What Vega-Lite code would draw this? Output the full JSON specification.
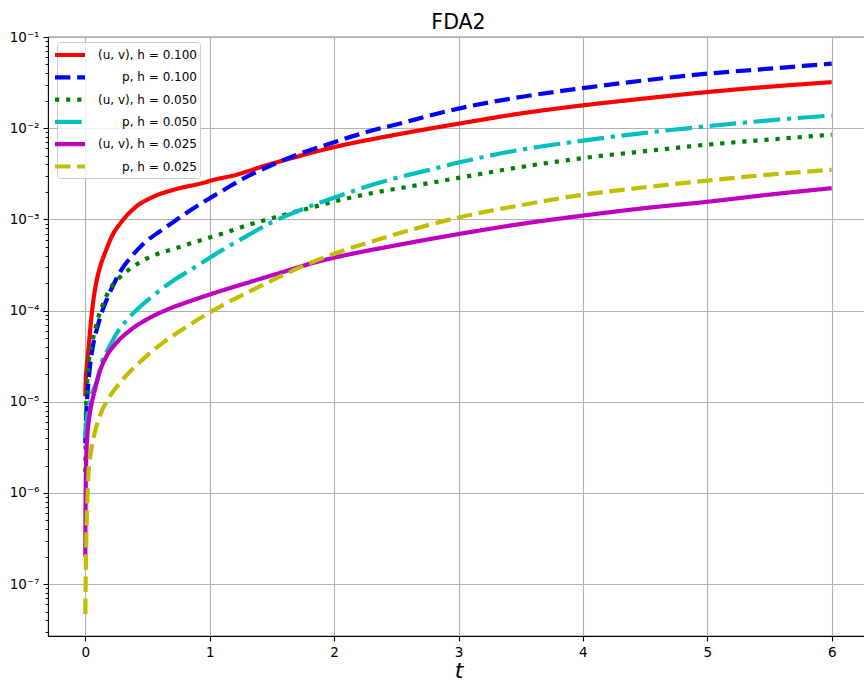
{
  "$schema": "https://vega.github.io/schema/vega-lite/v6.json",
  "autosize": {"type": "none"},
  "padding": {"left": 48, "top": 37, "right": 0, "bottom": 45},
  "width": 821,
  "height": 599,
  "background": "white",
  "title": {"text": "FDA2", "fontSize": 20.5, "fontWeight": "normal", "font": "DejaVu Sans", "color": "black", "anchor": "middle", "frame": "group", "baseline": "alphabetic", "offset": 7, "dy": 26},
  "config": {
    "view": {"stroke": "black", "strokeWidth": 1.1},
    "font": "DejaVu Sans"
  },
  "data": {"values": [
    {"series": "(u, v), h = 0.100", "t": 0, "v": 1.15e-5},
    {"series": "(u, v), h = 0.100", "t": 0.004, "v": 1.8e-5},
    {"series": "(u, v), h = 0.100", "t": 0.01, "v": 2.3e-5},
    {"series": "(u, v), h = 0.100", "t": 0.02, "v": 3.2e-5},
    {"series": "(u, v), h = 0.100", "t": 0.033, "v": 5e-5},
    {"series": "(u, v), h = 0.100", "t": 0.047, "v": 8e-5},
    {"series": "(u, v), h = 0.100", "t": 0.065, "v": 1.3e-4},
    {"series": "(u, v), h = 0.100", "t": 0.087, "v": 2e-4},
    {"series": "(u, v), h = 0.100", "t": 0.125, "v": 3.2e-4},
    {"series": "(u, v), h = 0.100", "t": 0.167, "v": 4.6e-4},
    {"series": "(u, v), h = 0.100", "t": 0.22, "v": 6.8e-4},
    {"series": "(u, v), h = 0.100", "t": 0.28, "v": 9e-4},
    {"series": "(u, v), h = 0.100", "t": 0.4, "v": 1.35e-3},
    {"series": "(u, v), h = 0.100", "t": 0.55, "v": 1.78e-3},
    {"series": "(u, v), h = 0.100", "t": 0.72, "v": 2.13e-3},
    {"series": "(u, v), h = 0.100", "t": 0.94, "v": 2.5e-3},
    {"series": "(u, v), h = 0.100", "t": 1.05, "v": 2.75e-3},
    {"series": "(u, v), h = 0.100", "t": 1.2, "v": 3.05e-3},
    {"series": "(u, v), h = 0.100", "t": 1.3, "v": 3.35e-3},
    {"series": "(u, v), h = 0.100", "t": 1.45, "v": 3.9e-3},
    {"series": "(u, v), h = 0.100", "t": 1.66, "v": 4.7e-3},
    {"series": "(u, v), h = 0.100", "t": 2, "v": 6.2e-3},
    {"series": "(u, v), h = 0.100", "t": 2.5, "v": 8.5e-3},
    {"series": "(u, v), h = 0.100", "t": 3, "v": 1.12e-2},
    {"series": "(u, v), h = 0.100", "t": 3.5, "v": 1.45e-2},
    {"series": "(u, v), h = 0.100", "t": 4, "v": 1.78e-2},
    {"series": "(u, v), h = 0.100", "t": 4.5, "v": 2.12e-2},
    {"series": "(u, v), h = 0.100", "t": 5, "v": 2.49e-2},
    {"series": "(u, v), h = 0.100", "t": 5.5, "v": 2.85e-2},
    {"series": "(u, v), h = 0.100", "t": 6, "v": 3.2e-2},

    {"series": "p, h = 0.100", "t": 0, "v": 3.5e-6},
    {"series": "p, h = 0.100", "t": 0.007, "v": 7e-6},
    {"series": "p, h = 0.100", "t": 0.02, "v": 1.35e-5},
    {"series": "p, h = 0.100", "t": 0.04, "v": 2.6e-5},
    {"series": "p, h = 0.100", "t": 0.06, "v": 4e-5},
    {"series": "p, h = 0.100", "t": 0.1, "v": 6.8e-5},
    {"series": "p, h = 0.100", "t": 0.14, "v": 1.02e-4},
    {"series": "p, h = 0.100", "t": 0.18, "v": 1.4e-4},
    {"series": "p, h = 0.100", "t": 0.24, "v": 2.1e-4},
    {"series": "p, h = 0.100", "t": 0.29, "v": 2.8e-4},
    {"series": "p, h = 0.100", "t": 0.37, "v": 3.9e-4},
    {"series": "p, h = 0.100", "t": 0.48, "v": 5.6e-4},
    {"series": "p, h = 0.100", "t": 0.6, "v": 7.4e-4},
    {"series": "p, h = 0.100", "t": 0.7, "v": 9.2e-4},
    {"series": "p, h = 0.100", "t": 0.83, "v": 1.22e-3},
    {"series": "p, h = 0.100", "t": 0.96, "v": 1.58e-3},
    {"series": "p, h = 0.100", "t": 1.12, "v": 2.13e-3},
    {"series": "p, h = 0.100", "t": 1.28, "v": 2.85e-3},
    {"series": "p, h = 0.100", "t": 1.5, "v": 3.95e-3},
    {"series": "p, h = 0.100", "t": 1.75, "v": 5.4e-3},
    {"series": "p, h = 0.100", "t": 2, "v": 7e-3},
    {"series": "p, h = 0.100", "t": 2.25, "v": 9e-3},
    {"series": "p, h = 0.100", "t": 2.5, "v": 1.1e-2},
    {"series": "p, h = 0.100", "t": 3, "v": 1.64e-2},
    {"series": "p, h = 0.100", "t": 3.5, "v": 2.2e-2},
    {"series": "p, h = 0.100", "t": 4, "v": 2.75e-2},
    {"series": "p, h = 0.100", "t": 4.5, "v": 3.35e-2},
    {"series": "p, h = 0.100", "t": 5, "v": 3.96e-2},
    {"series": "p, h = 0.100", "t": 5.5, "v": 4.5e-2},
    {"series": "p, h = 0.100", "t": 6, "v": 5.1e-2},

    {"series": "(u, v), h = 0.050", "t": 0, "v": 1.7e-6},
    {"series": "(u, v), h = 0.050", "t": 0.004, "v": 6e-6},
    {"series": "(u, v), h = 0.050", "t": 0.012, "v": 1.4e-5},
    {"series": "(u, v), h = 0.050", "t": 0.03, "v": 3e-5},
    {"series": "(u, v), h = 0.050", "t": 0.06, "v": 4.8e-5},
    {"series": "(u, v), h = 0.050", "t": 0.1, "v": 8e-5},
    {"series": "(u, v), h = 0.050", "t": 0.15, "v": 1.25e-4},
    {"series": "(u, v), h = 0.050", "t": 0.195, "v": 1.7e-4},
    {"series": "(u, v), h = 0.050", "t": 0.275, "v": 2.3e-4},
    {"series": "(u, v), h = 0.050", "t": 0.38, "v": 3e-4},
    {"series": "(u, v), h = 0.050", "t": 0.516, "v": 3.85e-4},
    {"series": "(u, v), h = 0.050", "t": 0.7, "v": 4.7e-4},
    {"series": "(u, v), h = 0.050", "t": 0.91, "v": 5.8e-4},
    {"series": "(u, v), h = 0.050", "t": 1.12, "v": 7.1e-4},
    {"series": "(u, v), h = 0.050", "t": 1.3, "v": 8.6e-4},
    {"series": "(u, v), h = 0.050", "t": 1.5, "v": 1.03e-3},
    {"series": "(u, v), h = 0.050", "t": 1.81, "v": 1.34e-3},
    {"series": "(u, v), h = 0.050", "t": 2, "v": 1.57e-3},
    {"series": "(u, v), h = 0.050", "t": 2.32, "v": 1.96e-3},
    {"series": "(u, v), h = 0.050", "t": 2.63, "v": 2.32e-3},
    {"series": "(u, v), h = 0.050", "t": 3, "v": 2.85e-3},
    {"series": "(u, v), h = 0.050", "t": 3.5, "v": 3.75e-3},
    {"series": "(u, v), h = 0.050", "t": 4, "v": 4.7e-3},
    {"series": "(u, v), h = 0.050", "t": 4.5, "v": 5.6e-3},
    {"series": "(u, v), h = 0.050", "t": 5, "v": 6.6e-3},
    {"series": "(u, v), h = 0.050", "t": 5.5, "v": 7.5e-3},
    {"series": "(u, v), h = 0.050", "t": 6, "v": 8.5e-3},

    {"series": "p, h = 0.050", "t": 0, "v": 4e-6},
    {"series": "p, h = 0.050", "t": 0.01, "v": 6e-6},
    {"series": "p, h = 0.050", "t": 0.03, "v": 9e-6},
    {"series": "p, h = 0.050", "t": 0.06, "v": 1.3e-5},
    {"series": "p, h = 0.050", "t": 0.087, "v": 1.6e-5},
    {"series": "p, h = 0.050", "t": 0.14, "v": 2.9e-5},
    {"series": "p, h = 0.050", "t": 0.18, "v": 3.7e-5},
    {"series": "p, h = 0.050", "t": 0.248, "v": 5.5e-5},
    {"series": "p, h = 0.050", "t": 0.38, "v": 9.2e-5},
    {"series": "p, h = 0.050", "t": 0.53, "v": 1.4e-4},
    {"series": "p, h = 0.050", "t": 0.7, "v": 2.1e-4},
    {"series": "p, h = 0.050", "t": 0.865, "v": 2.9e-4},
    {"series": "p, h = 0.050", "t": 1.1, "v": 4.6e-4},
    {"series": "p, h = 0.050", "t": 1.3, "v": 6.6e-4},
    {"series": "p, h = 0.050", "t": 1.5, "v": 9.3e-4},
    {"series": "p, h = 0.050", "t": 1.7, "v": 1.22e-3},
    {"series": "p, h = 0.050", "t": 1.9, "v": 1.55e-3},
    {"series": "p, h = 0.050", "t": 2.1, "v": 1.93e-3},
    {"series": "p, h = 0.050", "t": 2.3, "v": 2.38e-3},
    {"series": "p, h = 0.050", "t": 2.5, "v": 2.85e-3},
    {"series": "p, h = 0.050", "t": 2.75, "v": 3.45e-3},
    {"series": "p, h = 0.050", "t": 3, "v": 4.2e-3},
    {"series": "p, h = 0.050", "t": 3.5, "v": 5.8e-3},
    {"series": "p, h = 0.050", "t": 4, "v": 7.3e-3},
    {"series": "p, h = 0.050", "t": 4.5, "v": 8.9e-3},
    {"series": "p, h = 0.050", "t": 5, "v": 1.05e-2},
    {"series": "p, h = 0.050", "t": 5.5, "v": 1.22e-2},
    {"series": "p, h = 0.050", "t": 6, "v": 1.38e-2},

    {"series": "(u, v), h = 0.025", "t": 0, "v": 2e-7},
    {"series": "(u, v), h = 0.025", "t": 0.002, "v": 7e-7},
    {"series": "(u, v), h = 0.025", "t": 0.006, "v": 2e-6},
    {"series": "(u, v), h = 0.025", "t": 0.015, "v": 4e-6},
    {"series": "(u, v), h = 0.025", "t": 0.03, "v": 6.5e-6},
    {"series": "(u, v), h = 0.025", "t": 0.05, "v": 9.5e-6},
    {"series": "(u, v), h = 0.025", "t": 0.074, "v": 1.3e-5},
    {"series": "(u, v), h = 0.025", "t": 0.114, "v": 2.1e-5},
    {"series": "(u, v), h = 0.025", "t": 0.167, "v": 3.1e-5},
    {"series": "(u, v), h = 0.025", "t": 0.248, "v": 4.4e-5},
    {"series": "(u, v), h = 0.025", "t": 0.355, "v": 6e-5},
    {"series": "(u, v), h = 0.025", "t": 0.516, "v": 8.3e-5},
    {"series": "(u, v), h = 0.025", "t": 0.677, "v": 1.05e-4},
    {"series": "(u, v), h = 0.025", "t": 0.864, "v": 1.3e-4},
    {"series": "(u, v), h = 0.025", "t": 1.05, "v": 1.58e-4},
    {"series": "(u, v), h = 0.025", "t": 1.32, "v": 2.05e-4},
    {"series": "(u, v), h = 0.025", "t": 1.59, "v": 2.65e-4},
    {"series": "(u, v), h = 0.025", "t": 1.82, "v": 3.3e-4},
    {"series": "(u, v), h = 0.025", "t": 2, "v": 3.8e-4},
    {"series": "(u, v), h = 0.025", "t": 2.5, "v": 5.2e-4},
    {"series": "(u, v), h = 0.025", "t": 3, "v": 6.9e-4},
    {"series": "(u, v), h = 0.025", "t": 3.5, "v": 8.9e-4},
    {"series": "(u, v), h = 0.025", "t": 4, "v": 1.1e-3},
    {"series": "(u, v), h = 0.025", "t": 4.5, "v": 1.33e-3},
    {"series": "(u, v), h = 0.025", "t": 5, "v": 1.56e-3},
    {"series": "(u, v), h = 0.025", "t": 5.5, "v": 1.87e-3},
    {"series": "(u, v), h = 0.025", "t": 6, "v": 2.2e-3},

    {"series": "p, h = 0.025", "t": 0, "v": 4.7e-8},
    {"series": "p, h = 0.025", "t": 0.004, "v": 1.5e-7},
    {"series": "p, h = 0.025", "t": 0.01, "v": 4e-7},
    {"series": "p, h = 0.025", "t": 0.016, "v": 8e-7},
    {"series": "p, h = 0.025", "t": 0.024, "v": 1.5e-6},
    {"series": "p, h = 0.025", "t": 0.05, "v": 3.1e-6},
    {"series": "p, h = 0.025", "t": 0.08, "v": 4.8e-6},
    {"series": "p, h = 0.025", "t": 0.12, "v": 7.2e-6},
    {"series": "p, h = 0.025", "t": 0.18, "v": 1.05e-5},
    {"series": "p, h = 0.025", "t": 0.3, "v": 1.75e-5},
    {"series": "p, h = 0.025", "t": 0.46, "v": 2.9e-5},
    {"series": "p, h = 0.025", "t": 0.62, "v": 4.4e-5},
    {"series": "p, h = 0.025", "t": 0.78, "v": 6.2e-5},
    {"series": "p, h = 0.025", "t": 0.945, "v": 8.6e-5},
    {"series": "p, h = 0.025", "t": 1.13, "v": 1.2e-4},
    {"series": "p, h = 0.025", "t": 1.32, "v": 1.62e-4},
    {"series": "p, h = 0.025", "t": 1.59, "v": 2.45e-4},
    {"series": "p, h = 0.025", "t": 1.8, "v": 3.3e-4},
    {"series": "p, h = 0.025", "t": 2, "v": 4.2e-4},
    {"series": "p, h = 0.025", "t": 2.28, "v": 5.6e-4},
    {"series": "p, h = 0.025", "t": 2.5, "v": 6.9e-4},
    {"series": "p, h = 0.025", "t": 3, "v": 1.05e-3},
    {"series": "p, h = 0.025", "t": 3.5, "v": 1.43e-3},
    {"series": "p, h = 0.025", "t": 4, "v": 1.86e-3},
    {"series": "p, h = 0.025", "t": 4.5, "v": 2.25e-3},
    {"series": "p, h = 0.025", "t": 5, "v": 2.66e-3},
    {"series": "p, h = 0.025", "t": 5.5, "v": 3.1e-3},
    {"series": "p, h = 0.025", "t": 6, "v": 3.5e-3}
  ]},
  "mark": {"type": "line", "strokeWidth": 4.2, "interpolate": "monotone", "strokeCap": "butt", "clip": true},
  "encoding": {
    "x": {
      "field": "t", "type": "quantitative",
      "scale": {"domain": [-0.3, 6.3], "nice": false, "zero": false},
      "axis": {
        "values": [0, 1, 2, 3, 4, 5, 6],
        "format": "d",
        "domain": false,
        "grid": true, "gridColor": "#b0b0b0", "gridWidth": 1.1,
        "tickColor": "black", "tickSize": 5, "tickWidth": 1.1,
        "labelFont": "DejaVu Sans", "labelFontSize": 13.5, "labelColor": "black", "labelPadding": 4,
        "title": "t", "titleFont": "DejaVu Sans", "titleFontStyle": "italic", "titleFontWeight": "normal",
        "titleFontSize": 22, "titleColor": "black", "titlePadding": 2
      }
    },
    "y": {
      "field": "v", "type": "quantitative",
      "scale": {"type": "log", "domain": [2.7e-8, 0.1], "nice": false},
      "axis": {
        "values": [3e-8,4e-8,5e-8,6e-8,7e-8,8e-8,9e-8,
                   1e-7,2e-7,3e-7,4e-7,5e-7,6e-7,7e-7,8e-7,9e-7,
                   1e-6,2e-6,3e-6,4e-6,5e-6,6e-6,7e-6,8e-6,9e-6,
                   1e-5,2e-5,3e-5,4e-5,5e-5,6e-5,7e-5,8e-5,9e-5,
                   1e-4,2e-4,3e-4,4e-4,5e-4,6e-4,7e-4,8e-4,9e-4,
                   0.001,0.002,0.003,0.004,0.005,0.006,0.007,0.008,0.009,
                   0.01,0.02,0.03,0.04,0.05,0.06,0.07,0.08,0.09,0.1],
        "labelExpr": "abs(log(datum.value)/LN10 - round(log(datum.value)/LN10)) < 0.001 ? '10' + ['⁻⁸','⁻⁷','⁻⁶','⁻⁵','⁻⁴','⁻³','⁻²','⁻¹','⁰'][round(log(datum.value)/LN10) + 8] : ''",
        "domain": false,
        "grid": true, "gridColor": "#b0b0b0", "gridWidth": 1.1,
        "gridOpacity": {"condition": {"test": "abs(log(datum.value)/LN10 - round(log(datum.value)/LN10)) < 0.001", "value": 1}, "value": 0},
        "tickColor": "black", "tickWidth": 1,
        "tickSize": {"condition": {"test": "abs(log(datum.value)/LN10 - round(log(datum.value)/LN10)) < 0.001", "value": 5}, "value": 2.8},
        "labelFont": "DejaVu Sans", "labelFontSize": 13.5, "labelColor": "black", "labelPadding": 4,
        "labelOverlap": false, "labelBound": false, "labelFlush": false,
        "title": null
      }
    },
    "color": {
      "field": "series", "type": "nominal",
      "scale": {
        "domain": ["(u, v), h = 0.100", "p, h = 0.100", "(u, v), h = 0.050", "p, h = 0.050", "(u, v), h = 0.025", "p, h = 0.025"],
        "range": ["#ff0000", "#0000ff", "#008000", "#00bfbf", "#bf00bf", "#bfbf00"]
      },
      "legend": {
        "title": null,
        "orient": "none", "legendX": 9, "legendY": 5,
        "symbolType": "M-2,0H2", "symbolSize": 225, "symbolStrokeWidth": 4.2,
        "labelFont": "DejaVu Sans", "labelFontSize": 12, "labelColor": "black",
        "labelAlign": "right", "labelOffset": 117,
        "fillColor": "rgba(255,255,255,0.8)", "strokeColor": "#cccccc", "cornerRadius": 3,
        "padding": 3, "rowPadding": 3.3
      }
    },
    "strokeDash": {
      "field": "series", "type": "nominal",
      "scale": {
        "domain": ["(u, v), h = 0.100", "p, h = 0.100", "(u, v), h = 0.050", "p, h = 0.050", "(u, v), h = 0.025", "p, h = 0.025"],
        "range": [[1, 0], [15.4, 6.7], [4.2, 6.9], [26.7, 6.7, 4.2, 6.7], [1, 0], [15.4, 6.7]]
      },
      "legend": {
        "title": null,
        "orient": "none", "legendX": 9, "legendY": 5,
        "symbolType": "M-2,0H2", "symbolSize": 225, "symbolStrokeWidth": 4.2,
        "labelFont": "DejaVu Sans", "labelFontSize": 12, "labelColor": "black",
        "labelAlign": "right", "labelOffset": 117,
        "fillColor": "rgba(255,255,255,0.8)", "strokeColor": "#cccccc", "cornerRadius": 3,
        "padding": 3, "rowPadding": 3.3
      }
    }
  }
}
